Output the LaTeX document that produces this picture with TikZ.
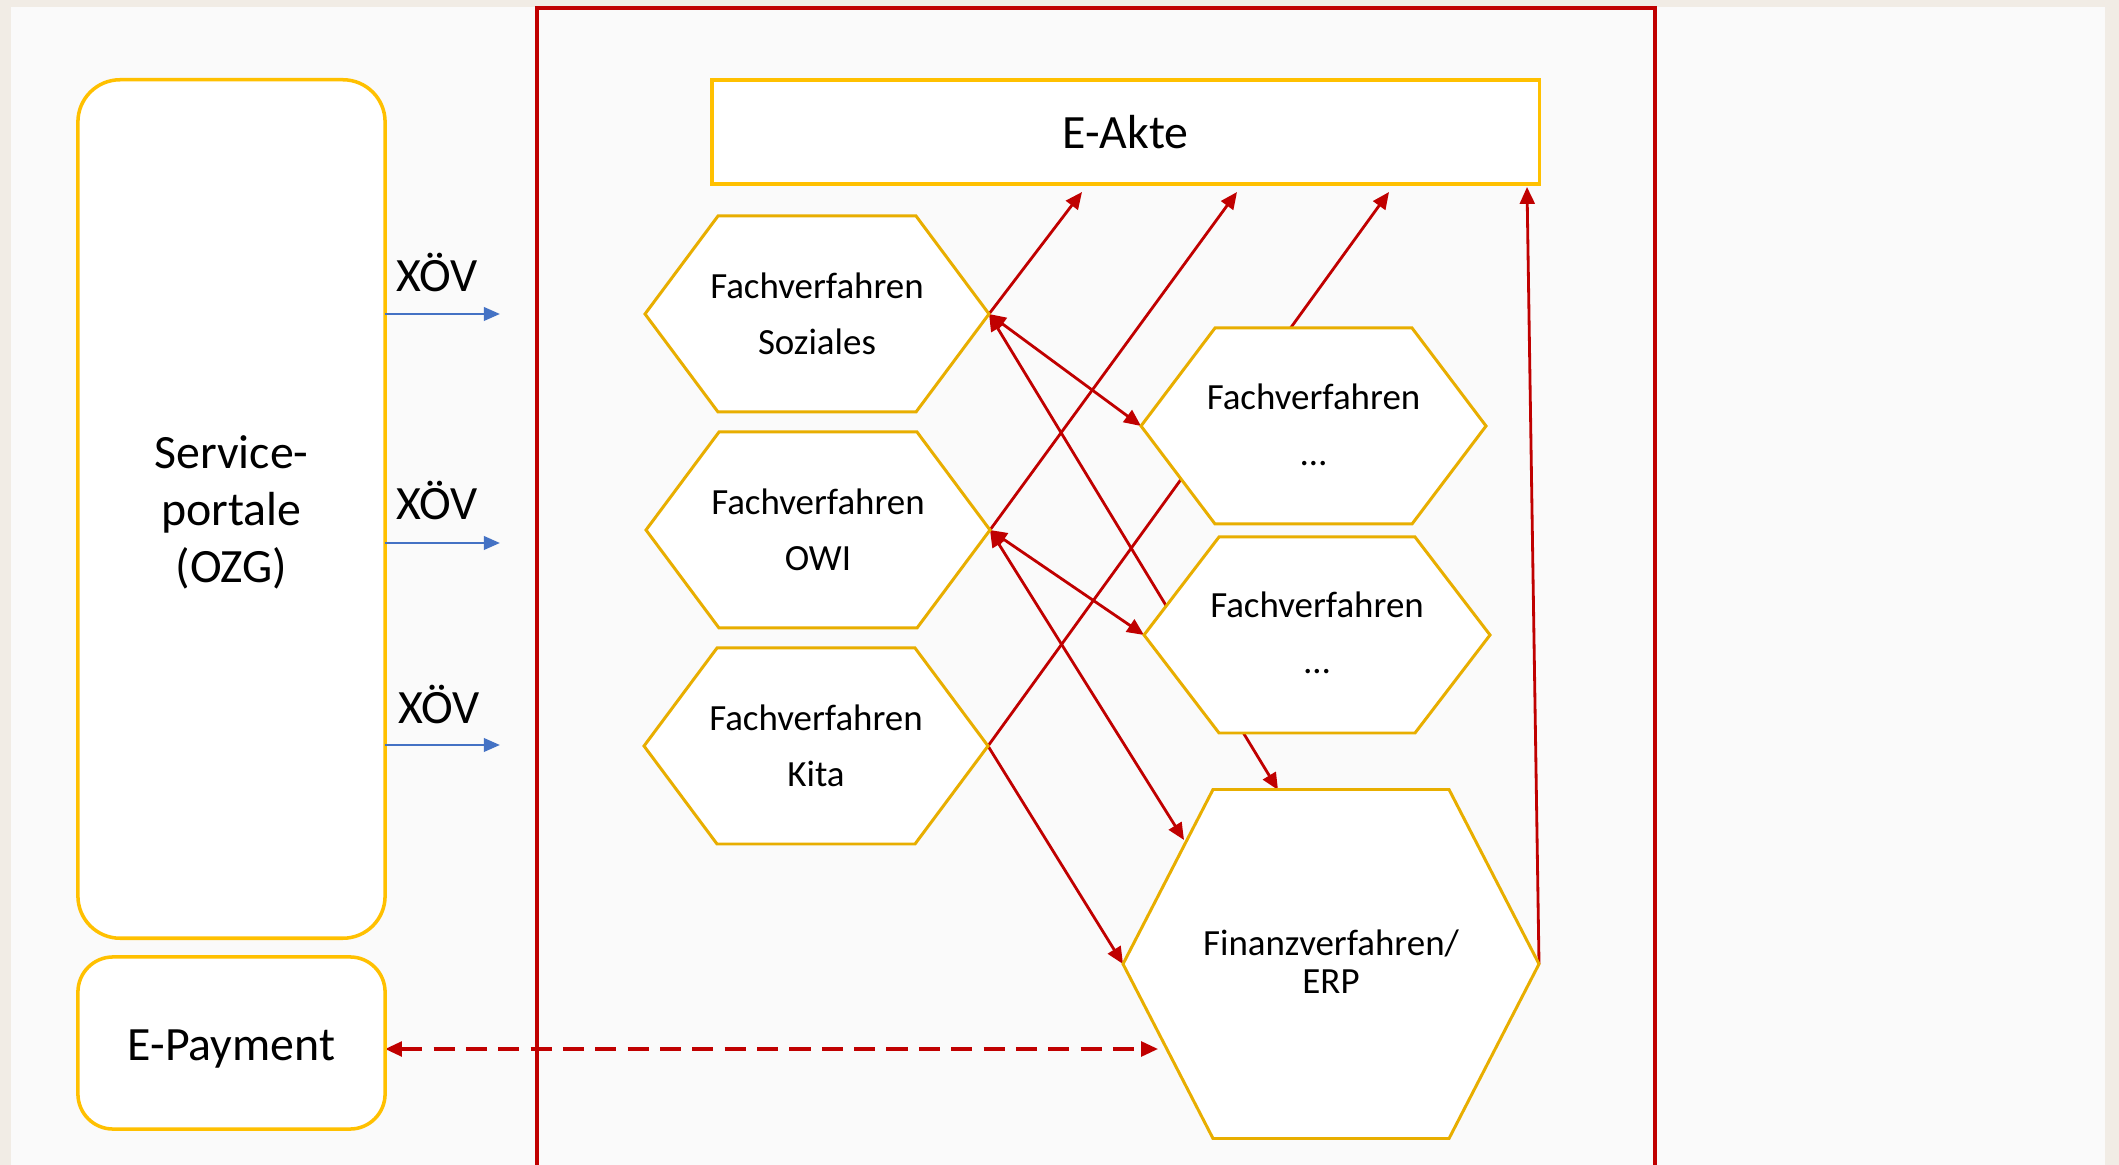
\documentclass[tikz,border=0pt]{standalone}
\usepackage{fontspec}
\setmainfont{Carlito}
\usetikzlibrary{arrows.meta}
\pgfdeclarelayer{back}
\pgfdeclarelayer{mid}
\pgfsetlayers{back,mid,main}
\definecolor{gold}{HTML}{FFC000}
\definecolor{hexgold}{HTML}{E8AE00}
\definecolor{dred}{HTML}{C00000}
\definecolor{oblue}{HTML}{4472C4}
\definecolor{panelc}{HTML}{FAFAFA}
\definecolor{outerc}{HTML}{F1ECE5}
\tikzset{
  bigtext/.style={font=\fontsize{13.6}{16.2}\selectfont, text=black},
  hextext/.style={font=\fontsize{10.5}{15.9}\selectfont, align=center, text=black},
  hexline/.style={draw=hexgold, line width=0.85pt, fill=white, line join=miter},
  roundbox/.style={draw=gold, line width=1pt, fill=white, inner sep=0pt, outer sep=0pt},
  redline/.style={draw=dred, line width=0.8pt},
  blueline/.style={draw=oblue, line width=0.8pt, -{Triangle[length=4.6pt,width=3.8pt]}},
  >={Triangle[length=4.8pt,width=4.2pt]},
}
\newcommand\hexdef[6]{% name cx cy hw hh inset
  \coordinate (#1) at (#2,#3);
  \coordinate (#1-l) at ({#2-#4},#3);
  \coordinate (#1-r) at ({#2+#4},#3);
  \coordinate (#1-tl) at ({#2-#4+#6},{#3-#5});
  \coordinate (#1-tr) at ({#2+#4-#6},{#3-#5});
  \coordinate (#1-bl) at ({#2-#4+#6},{#3+#5});
  \coordinate (#1-br) at ({#2+#4-#6},{#3+#5});
}
\newcommand\hexdraw[1]{%
  \draw[hexline] (#1-l) -- (#1-tl) -- (#1-tr) -- (#1-r) -- (#1-br) -- (#1-bl) -- cycle;
}
\begin{document}
\begin{tikzpicture}[x=0.01cm,y=-0.01cm]
\useasboundingbox (0,0) rectangle (2119,1165);
\clip (0,0) rectangle (2119,1165);
% hexagon geometry
\hexdef{soz}{817}{314}{172}{98}{73}
\hexdef{owi}{818}{530}{172}{98}{73}
\hexdef{kita}{816}{746}{172}{98}{73}
\hexdef{ua}{1313.5}{426}{172.5}{98}{74}
\hexdef{ub}{1317}{635}{173}{98}{75}
\hexdef{fin}{1331}{964}{208}{174.5}{90}
\begin{pgfonlayer}{back}
  \fill[outerc] (0,0) rectangle (2119,1165);
  \fill[panelc] (11,7) rectangle (2105,1175);
  \draw[dred, line width=0.9pt] (537,1180) -- (537,8) -- (1655,8) -- (1655,1180);
\end{pgfonlayer}
% boxes
\node[roundbox, rounded corners=12pt, minimum width=3.07cm, minimum height=8.58cm] (sp) at (231.5,509) {};
\node[bigtext, align=center] (spt) at (231.5,512) {Service-\\portale\\(OZG)};
\node[roundbox, rounded corners=10pt, minimum width=3.07cm, minimum height=1.72cm] (ep) at (231.5,1043) {};
\node[bigtext] (ept) at (231.5,1049) {E-Payment};
\node[roundbox, minimum width=8.27cm, minimum height=1.04cm, bigtext] (ea) at (1125.5,132) {E-Akte};
% XOEV arrows
\coordinate (x1) at (500,314);
\coordinate (x2) at (500,543);
\coordinate (x3) at (500,745);
\draw[blueline] (sp.east |- x1) -- (x1);
\draw[blueline] (sp.east |- x2) -- (x2);
\draw[blueline] (sp.east |- x3) -- (x3);
\node[bigtext, anchor=base] (l1) at (437,292) {XÖV};
\node[bigtext, anchor=base] (l2) at (437,520) {XÖV};
\node[bigtext, anchor=base] (l3) at (439,724) {XÖV};
% connector end points
\coordinate (ea1) at (1082,192);
\coordinate (ea2) at (1237,192);
\coordinate (ea3) at (1389,192);
\coordinate (ea4) at (1527,187);
\coordinate (fina) at (1278,790);
\coordinate (finb) at (1184,840);
\coordinate (finc) at (1158,1049);
\begin{pgfonlayer}{mid}
  \draw[redline,->] (soz-r) -- (ea1);
  \draw[redline,->] (owi-r) -- (ea2);
  \draw[redline,->] (kita-r) -- (ea3);
  \draw[redline,<->] (soz-r) -- (ua-l);
  \draw[redline,<->] (soz-r) -- (fina);
  \draw[redline,<->] (owi-r) -- (ub-l);
  \draw[redline,<->] (owi-r) -- (finb);
  \draw[redline,->] (kita-r) -- (fin-l);
  \draw[redline,->] (fin-r) -- (ea4);
  \draw[redline,<->,line width=0.9pt,dash pattern=on 6pt off 3.2pt] (ep.east |- finc) -- (finc);
\end{pgfonlayer}
% hexagons
\hexdraw{soz}
\hexdraw{owi}
\hexdraw{kita}
\hexdraw{ua}
\hexdraw{ub}
\hexdraw{fin}
\node[hextext] (tsoz) at (soz) {Fachverfahren\\Soziales};
\node[hextext] (towi) at (owi) {Fachverfahren\\OWI};
\node[hextext] (tkita) at (kita) {Fachverfahren\\Kita};
\node[hextext] (tua) at (1313.5,425) {Fachverfahren\\…};
\node[hextext] (tub) at (1317,633) {Fachverfahren\\…};
\node[hextext, font=\fontsize{10.5}{10.8}\selectfont] (tfin) at (1331,962) {Finanzverfahren/\\ERP};
\end{tikzpicture}
\end{document}
